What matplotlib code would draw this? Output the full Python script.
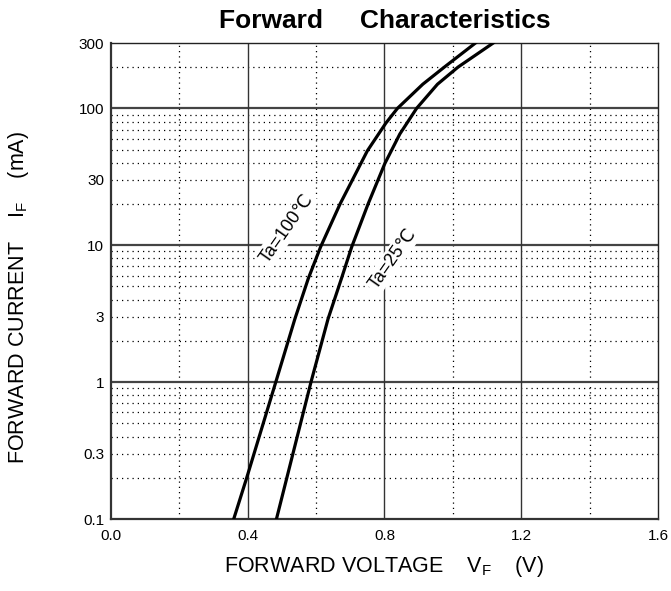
import numpy as np
import matplotlib
matplotlib.use("Agg")
import matplotlib.pyplot as plt

plt.rcParams['font.family'] = ['Liberation Sans', 'DejaVu Sans']
plt.rcParams['mathtext.fontset'] = 'custom'
plt.rcParams['mathtext.rm'] = 'Liberation Sans'

# forward voltage (V) vs forward current (mA)
vf_100 = [0.359, 0.397, 0.482, 0.538, 0.577, 0.613, 0.670, 0.750, 0.804, 0.838, 0.912, 0.975, 1.066]
if_100 = [0.1, 0.2, 1, 2.9, 5.7, 9.7, 20, 49, 78, 100, 150, 200, 300]
vf_25 = [0.484, 0.585, 0.635, 0.674, 0.704, 0.752, 0.801, 0.845, 0.894, 0.955, 1.015, 1.118]
if_25 = [0.1, 1, 2.9, 5.7, 9.7, 20, 39.5, 65, 100, 150, 200, 300]

xticks = [0.0, 0.4, 0.8, 1.2, 1.6]
xtick_labels = ['0.0', '0.4', '0.8', '1.2', '1.6']
yticks = [0.1, 0.3, 1, 3, 10, 30, 100, 300]
ytick_labels = ['0.1', '0.3', '1', '3', '10', '30', '100', '300']

x_major = [0.4, 0.8, 1.2]
x_minor = [0.2, 0.6, 1.0, 1.4]
y_major = [1, 10, 100]
y_minor = [m * d for d in (0.1, 1, 10) for m in range(2, 10)] + [200]

fig = plt.figure(figsize=(6.71, 5.91), dpi=100)
ax = fig.add_axes([0.1654, 0.1218, 0.8152, 0.8054])

ax.set_yscale('log')
ax.set_xlim(0, 1.6)
ax.set_ylim(0.1, 300)

# grid drawn by hand: solid for decades / 0.4 V, dotted for the rest
for y in y_minor:
    ax.axhline(y, color='black', lw=0.9, ls=(0, (1, 3.2)), zorder=0.5)
for x in x_minor:
    ax.axvline(x, color='black', lw=0.9, ls=(0, (1, 3.2)), zorder=0.5)
for y in y_major:
    ax.axhline(y, color='#444444', lw=1.6, zorder=0.6)
for x in x_major:
    ax.axvline(x, color='#333333', lw=1.0, zorder=0.6)

ax.plot(vf_100, if_100, color='black', lw=2.3, zorder=3, solid_joinstyle='round')
ax.plot(vf_25, if_25, color='black', lw=2.3, zorder=3, solid_joinstyle='round')

box = dict(facecolor='white', edgecolor='none', pad=1.5)
ax.text(0.513, 13.2, 'Ta=100℃', rotation=55, ha='center', va='center',
        fontsize=13, bbox=box, zorder=2)
ax.text(0.825, 8.0, 'Ta=25℃', rotation=55, ha='center', va='center',
        fontsize=13, bbox=box, zorder=2)

ax.set_xticks(xticks, xtick_labels)
ax.set_yticks(yticks, ytick_labels)
ax.minorticks_off()
ax.tick_params(length=0, labelsize=11, colors='black')
ax.tick_params(axis='x', pad=7)
ax.tick_params(axis='y', pad=5)

for side in ('left', 'bottom'):
    ax.spines[side].set_linewidth(1.6)
    ax.spines[side].set_color('#333333')
for side in ('top', 'right'):
    ax.spines[side].set_linewidth(1.0)
    ax.spines[side].set_color('#222222')

ax.set_title('Forward     Characteristics', fontsize=19, fontweight='bold', pad=11)

fig.text(0.5723, 0.032, r'FORWARD VOLTAGE    V$_\mathregular{F}$    (V)',
         ha='center', va='baseline', fontsize=15.5)
fig.text(0.028, 0.496, r'FORWARD CURRENT    I$_\mathregular{F}$    (mA)',
         ha='center', va='center', rotation=90, fontsize=15.5)

fig.savefig('out.png', dpi=100)
